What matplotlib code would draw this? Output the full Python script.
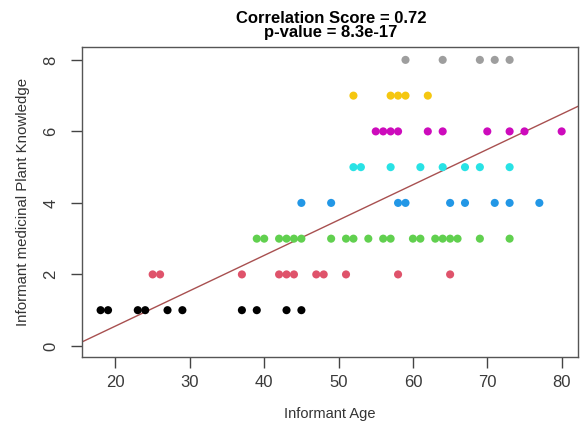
import numpy as np
import matplotlib
matplotlib.use("Agg")
import matplotlib.pyplot as plt

plt.rcParams['font.family'] = ['Liberation Sans', 'DejaVu Sans']

# Informant ages grouped by knowledge score (number of medicinal plants known)
ages_by_score = {
    1: [18, 19, 23, 24, 27, 29, 37, 39, 43, 45],
    2: [25, 26, 37, 42, 43, 44, 47, 48, 51, 58, 65],
    3: [39, 40, 42, 43, 44, 45, 49, 51, 52, 54, 56, 57, 60, 61, 63, 64, 65, 66, 69, 73],
    4: [45, 49, 58, 59, 65, 67, 71, 73, 77],
    5: [52, 53, 57, 61, 64, 67, 69, 73],
    6: [55, 56, 57, 58, 62, 64, 70, 73, 75, 80],
    7: [52, 57, 58, 59, 62],
    8: [59, 64, 69, 71, 73],
}
score_colors = {
    1: "#000000", 2: "#DF536B", 3: "#61D04F", 4: "#2297E6",
    5: "#28E2E5", 6: "#CD0BBC", 7: "#F5C710", 8: "#9E9E9E",
}
# linear model fitted on the full survey sample (knowledge ~ age)
fit_intercept = -1.42
fit_slope = 0.0988

x_ticks = [20, 30, 40, 50, 60, 70, 80]
y_ticks = [0, 2, 4, 6, 8]
corr_text = "Correlation Score = 0.72"
pval_text = "p-value = 8.3e-17"

fig = plt.figure(figsize=(5.8, 4.22), dpi=100)
ax = fig.add_axes([0.1414, 0.154, 0.8552, 0.7346])

for k, xs in ages_by_score.items():
    ax.scatter(xs, [k] * len(xs), s=34, color=score_colors[k], edgecolors='none', zorder=3)

xl = np.array([10, 90])
ax.plot(xl, fit_intercept + fit_slope * xl, color="#A85050", lw=1.0, zorder=2)

ax.set_xlim(15.5, 82.2)
ax.set_ylim(-0.31, 8.36)
ax.set_xticks(x_ticks)
ax.set_yticks(y_ticks)
ax.set_yticklabels([str(v) for v in y_ticks], rotation=90, va='center')
ax.tick_params(axis='both', length=8, width=1, color='#444444', labelsize=12,
               labelcolor='#3a3a3a')
ax.tick_params(axis='x', pad=5)
ax.tick_params(axis='y', pad=9)
for sp in ax.spines.values():
    sp.set_color('#555555')
    sp.set_linewidth(1)

ax.set_xlabel("Informant Age", fontsize=10.5, color='#333333', labelpad=12)
ax.set_ylabel("Informant medicinal Plant Knowledge", fontsize=10.8, color='#333333', labelpad=10)

fig.text(0.571, 0.956, corr_text, ha='center', va='center', fontsize=12, fontweight='bold')
fig.text(0.571, 0.922, pval_text, ha='center', va='center', fontsize=12, fontweight='bold')

fig.savefig("out.png", dpi=100)
